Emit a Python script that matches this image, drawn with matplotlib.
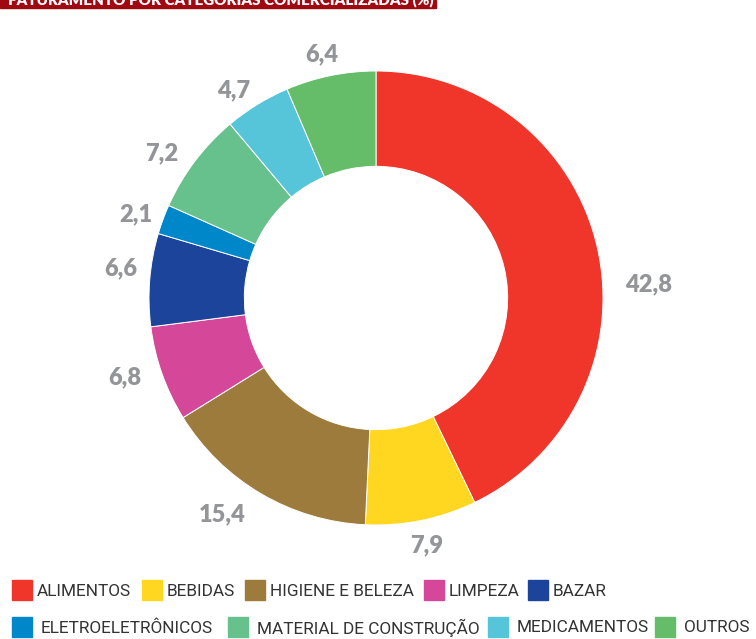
import matplotlib
matplotlib.use("Agg")
import numpy as np
import matplotlib.pyplot as plt
from matplotlib import font_manager
from matplotlib.patches import Rectangle

# faturamento por categoria (%)
categorias = ["ALIMENTOS", "BEBIDAS", "HIGIENE E BELEZA", "LIMPEZA", "BAZAR",
              "ELETROELETRÔNICOS", "MATERIAL DE CONSTRUÇÃO", "MEDICAMENTOS", "OUTROS"]
valores = [42.8, 7.9, 15.4, 6.8, 6.6, 2.1, 7.2, 4.7, 6.4]
rotulos = ["42,8", "7,9", "15,4", "6,8", "6,6", "2,1", "7,2", "4,7", "6,4"]
cores = ["#F0352B", "#FFD620", "#9C7B3C", "#D54899", "#1C449B",
         "#0087CA", "#67C18C", "#56C5D9", "#65BD69"]

# small nudges for the number labels (degrees, radius)
desvio_ang = [-10, 0, -5, -2, -2, 1, 3, 3, 1]
raio_rot = [1.20, 1.11, 1.17, 1.16, 1.13, 1.12, 1.14, 1.11, 1.10]

W, H = 756, 639
cx, cy, R = 376, 298, 227

# narrow font if there is one, otherwise Roboto
nomes = {f.name for f in font_manager.fontManager.ttflist}
if "Liberation Sans Narrow" in nomes:
    fam_leg, tam_leg = "Liberation Sans Narrow", 14.5
else:
    fam_leg, tam_leg = "Roboto", 12.4

fig = plt.figure(figsize=(W / 100, H / 100), dpi=100)
ax = fig.add_axes([0, 0, 1, 1])
wedges, _ = ax.pie(valores, colors=cores, startangle=90, counterclock=False,
                   radius=1, wedgeprops=dict(width=0.42, edgecolor="white", linewidth=0.7))
ax.set_xlim(-cx / R, (W - cx) / R)
ax.set_ylim(-(H - cy) / R, cy / R)
ax.axis("off")

for w, txt, da, r in zip(wedges, rotulos, desvio_ang, raio_rot):
    ang = np.deg2rad((w.theta1 + w.theta2) / 2 + da)
    ax.text(r * np.cos(ang), r * np.sin(ang), txt, ha="center", va="center",
            fontsize=17, fontweight="heavy", color="#939598", family=["Lato", "DejaVu Sans"])

# title bar (cut at the top in the original)
fig.patches.append(Rectangle((0, 1 - 8 / H), 436 / W, 8 / H, transform=fig.transFigure,
                             color="#A00812", zorder=0))
fig.text(8 / W, 1 - 4 / H, "FATURAMENTO POR CATEGORIAS COMERCIALIZADAS (%)", color="white",
         fontsize=10.9, fontweight="heavy", va="baseline", ha="left", family=["Lato", "DejaVu Sans"])

# legend drawn by hand, two rows (square x in pixels)
linhas = [([12, 142, 245, 424, 528], range(0, 5), 590, 5),
          ([12, 228, 488, 655], range(5, 9), 627, 9)]
for xs, idx, ymeio, gap_txt in linhas:
    for x, i in zip(xs, idx):
        fig.patches.append(Rectangle((x / W, 1 - (ymeio + 10) / H), 20 / W, 20 / H,
                                     transform=fig.transFigure, color=cores[i]))
        fig.text((x + 20 + gap_txt) / W, 1 - (ymeio + 1) / H, categorias[i], ha="left", va="center",
                 fontsize=tam_leg, family=fam_leg, color="#333333")

fig.savefig("out.png", dpi=100, facecolor="white")
